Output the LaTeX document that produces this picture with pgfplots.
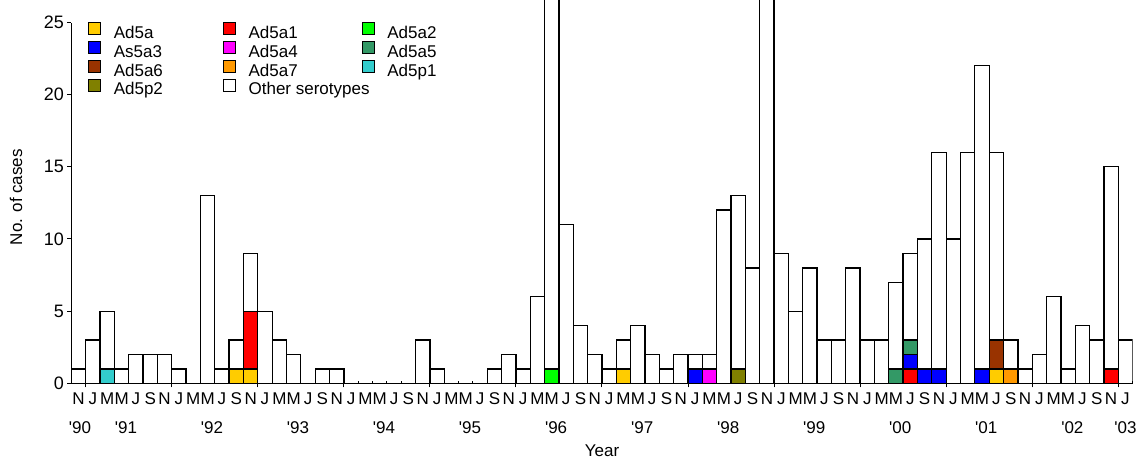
\documentclass[border=0pt]{standalone}
\usepackage{fontspec}
\setmainfont{Liberation Sans}
\usepackage{pgfplots}
\pgfplotsset{compat=1.18}
\definecolor{cAda}{HTML}{FFCC00}
\definecolor{cAdaone}{HTML}{FF0000}
\definecolor{cAdatwo}{HTML}{00FF00}
\definecolor{cAsathree}{HTML}{0000FF}
\definecolor{cAdafour}{HTML}{FF00FF}
\definecolor{cAdafive}{HTML}{339966}
\definecolor{cAdasix}{HTML}{993300}
\definecolor{cAdaseven}{HTML}{FF9900}
\definecolor{cAdpone}{HTML}{33CCCC}
\definecolor{cAdptwo}{HTML}{808000}
\pgfplotsset{mybar/.style={ybar, bar width=1, bar shift=0pt, draw=black, line width=1.3pt, forget plot}}
\begin{document}
\begin{tikzpicture}[font=\fontsize{17}{20}\selectfont]
\useasboundingbox (0,0) rectangle (1147pt,461pt);
\begin{axis}[
  at={(71.4pt,77.7pt)}, anchor=south west,
  scale only axis, width=1061.2pt, height=382.4pt,
  xmin=-0.5, xmax=73.5, ymin=0, ymax=26.5,
  axis x line*=bottom, axis y line*=left,
  y axis line style={draw=none},
  x axis line style={line width=1pt, -},
  axis on top,
  clip mode=individual,
  xtick={0.5,6.5,...,72.5}, xticklabels={},
  extra x ticks={0,1,...,73},
  extra x tick labels={N,J,M,M,J,S,N,J,M,M,J,S,N,J,M,M,J,S,N,J,M,M,J,S,N,J,M,M,J,S,N,J,M,M,J,S,N,J,M,M,J,S,N,J,M,M,J,S,N,J,M,M,J,S,N,J,M,M,J,S,N,J,M,M,J,S,N,J,M,M,J,S,N,J},
  extra x tick style={major tick length=0pt, xticklabel style={yshift=-6pt}},
  ytick={0,5,...,25},
  yticklabel style={font=\fontsize{18}{20}\selectfont},
  minor tick num=0,
  tick align=outside, major tick length=4pt,
  tick style={black, line width=1pt},
  /pgf/number format/assume math mode=true,
  legend style={draw=none, fill=none, at={(rel axis cs:0,1)}, anchor=north west,
    xshift=16.6pt, yshift=-21.5pt, legend columns=3, inner sep=0pt, outer sep=0pt,
    nodes={inner sep=0pt, text height=12pt, text depth=4pt}, row sep=-1pt,
    /tikz/every odd column/.style={column sep=13pt}},
  legend cell align=left,
  legend image code/.code={\draw[#1, line width=0.8pt, draw=black] (0pt,-0.5pt) rectangle (12pt,11.5pt);},
]
% totals (white = other serotypes on top)
\addplot[mybar, fill=white] coordinates {
(0,1) (1,3) (2,5) (3,1) (4,2) (5,2) (6,2) (7,1) (9,13) (10,1) (11,3) (12,9) (13,5) (14,3) (15,2)
(17,1) (18,1) (24,3) (25,1) (29,1) (30,2) (31,1) (32,6) (33,30) (34,11) (35,4) (36,2) (37,1)
(38,3) (39,4) (40,2) (41,1) (42,2) (43,2) (44,2) (45,12) (46,13) (47,8) (48,30) (49,9) (50,5)
(51,8) (52,3) (53,3) (54,8) (55,3) (56,3) (57,7) (58,9) (59,10) (60,16) (61,10) (62,16) (63,22)
(64,16) (65,3) (66,1) (67,2) (68,6) (69,1) (70,4) (71,3) (72,15) (73,3)};
% coloured segments, cumulative tops, drawn from top of stack downwards
\addplot[mybar, fill=cAdptwo] coordinates {(46,1)};
\addplot[mybar, fill=cAdpone] coordinates {(2,1)};
\addplot[mybar, fill=cAdaseven] coordinates {(65,1)};
\addplot[mybar, fill=cAdasix] coordinates {(64,3)};
\addplot[mybar, fill=cAdafive] coordinates {(57,1) (58,3)};
\addplot[mybar, fill=cAdafour] coordinates {(44,1)};
\addplot[mybar, fill=cAsathree] coordinates {(43,1) (58,2) (59,1) (60,1) (63,1)};
\addplot[mybar, fill=cAdatwo] coordinates {(33,1)};
\addplot[mybar, fill=cAdaone] coordinates {(12,5) (58,1) (72,1)};
\addplot[mybar, fill=cAda] coordinates {(11,1) (12,1) (38,1) (64,1)};
% legend
\addlegendimage{fill=cAda}\addlegendentry{\makebox[109pt][l]{Ad5a}}
\addlegendimage{fill=cAdaone}\addlegendentry{\makebox[113pt][l]{Ad5a1}}
\addlegendimage{fill=cAdatwo}\addlegendentry{Ad5a2}
\addlegendimage{fill=cAsathree}\addlegendentry{\makebox[109pt][l]{As5a3}}
\addlegendimage{fill=cAdafour}\addlegendentry{\makebox[113pt][l]{Ad5a4}}
\addlegendimage{fill=cAdafive}\addlegendentry{Ad5a5}
\addlegendimage{fill=cAdasix}\addlegendentry{\makebox[109pt][l]{Ad5a6}}
\addlegendimage{fill=cAdaseven}\addlegendentry{\makebox[113pt][l]{Ad5a7}}
\addlegendimage{fill=cAdpone}\addlegendentry{Ad5p1}
\addlegendimage{fill=cAdptwo}\addlegendentry{\makebox[109pt][l]{Ad5p2}}
\addlegendimage{fill=white}\addlegendentry{\makebox[113pt][l]{Other serotypes}}
% axis decorations
\draw[line width=1pt] (axis cs:-0.5,0) -- (axis cs:-0.5,25);
\pgfplotsinvokeforeach{-0.5,0.5,...,73.5}{\draw[line width=1pt] (axis cs:#1,0) -- ++(0pt,2.5pt);}
% year labels
\node at (axis cs:0.1,0) [yshift=-44pt] {\textquotesingle 90};
\node at (axis cs:3.3,0) [yshift=-44pt] {\textquotesingle 91};
\node at (axis cs:9.3,0) [yshift=-44pt] {\textquotesingle 92};
\node at (axis cs:15.3,0) [yshift=-44pt] {\textquotesingle 93};
\node at (axis cs:21.3,0) [yshift=-44pt] {\textquotesingle 94};
\node at (axis cs:27.3,0) [yshift=-44pt] {\textquotesingle 95};
\node at (axis cs:33.3,0) [yshift=-44pt] {\textquotesingle 96};
\node at (axis cs:39.3,0) [yshift=-44pt] {\textquotesingle 97};
\node at (axis cs:45.3,0) [yshift=-44pt] {\textquotesingle 98};
\node at (axis cs:51.3,0) [yshift=-44pt] {\textquotesingle 99};
\node at (axis cs:57.3,0) [yshift=-44pt] {\textquotesingle 00};
\node at (axis cs:63.3,0) [yshift=-44pt] {\textquotesingle 01};
\node at (axis cs:69.3,0) [yshift=-44pt] {\textquotesingle 02};
\node at (axis cs:73.0,0) [yshift=-44pt] {\textquotesingle 03};
\node at (axis cs:36.5,0) [yshift=-67pt] {Year};
\node[rotate=90] at ([xshift=-55.4pt]axis cs:-0.5,12.9) {No. of cases};
\end{axis}
\end{tikzpicture}
\end{document}
